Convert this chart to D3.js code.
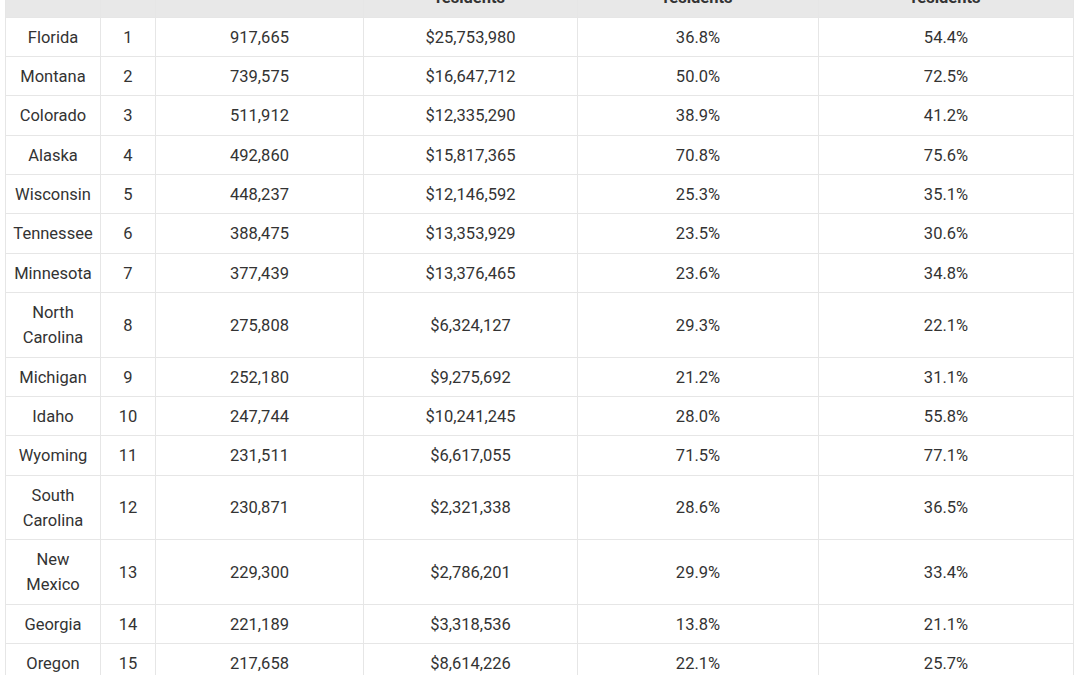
<!DOCTYPE html>
<meta charset="utf-8">
<style>
  body { margin: 0; background: #fff; overflow: hidden; }
  #wrap { position: absolute; left: 5px; top: 0; }
  table { border-collapse: collapse; table-layout: fixed; font-family: Roboto, sans-serif; font-size: 16.5px; color: #333; }
  th, td { border: 1px solid #e6e6e6; text-align: center; }
  th { background: #e8e8e8; height: 140px; vertical-align: bottom; padding: 0 8px 70px; font-weight: bold; line-height: 20px; white-space: pre-line; }
  th.low { padding-bottom: 9px; }
  td { padding: 7px 6px 6.4px; line-height: 25px; height: 25px; }
</style>
<body>
<div id="wrap"></div>
<script src="https://d3js.org/d3.v7.min.js"></script>
<script>
var headers = ["State", "Rank", "Acres", "Value of land owned by out-of-state\nresidents", "Share of land owned by out-of-state\nresidents", "Share of land owned by out-of-county\nresidents"];
var colWidths = [95, 55, 208, 214, 241, 255];
var states = ["Florida","Montana","Colorado","Alaska","Wisconsin","Tennessee","Minnesota","North Carolina","Michigan","Idaho","Wyoming","South Carolina","New Mexico","Georgia","Oregon"];
var ranks = [1,2,3,4,5,6,7,8,9,10,11,12,13,14,15];
var acres = [917665,739575,511912,492860,448237,388475,377439,275808,252180,247744,231511,230871,229300,221189,217658];
var values = [25753980,16647712,12335290,15817365,12146592,13353929,13376465,6324127,9275692,10241245,6617055,2321338,2786201,3318536,8614226];
var shareState = [36.8,50.0,38.9,70.8,25.3,23.5,23.6,29.3,21.2,28.0,71.5,28.6,29.9,13.8,22.1];
var shareCounty = [54.4,72.5,41.2,75.6,35.1,30.6,34.8,22.1,31.1,55.8,77.1,36.5,33.4,21.1,25.7];

var fmt = d3.format(",");
var rows = states.map(function(s, i){
  return [s, ranks[i], fmt(acres[i]), "$" + fmt(values[i]), shareState[i].toFixed(1) + "%", shareCounty[i].toFixed(1) + "%"];
});

var wrap = d3.select("#wrap");
var table = wrap.append("table");
table.append("colgroup").selectAll("col").data(colWidths).enter()
  .append("col").style("width", function(d){ return d + "px"; });
var thead = table.append("thead");
thead.append("tr").selectAll("th").data(headers).enter()
  .append("th").classed("low", function(d, i){ return i >= 3; })
  .text(function(d){ return d; });
table.append("tbody").selectAll("tr").data(rows).enter()
  .append("tr").selectAll("td").data(function(d){ return d; }).enter()
  .append("td").text(function(d){ return d; });

// shift so only the bottom 17px of the header shows
var hb = thead.node().getBoundingClientRect().bottom;
wrap.style("top", (17 - hb) + "px");
</script>
</body>
